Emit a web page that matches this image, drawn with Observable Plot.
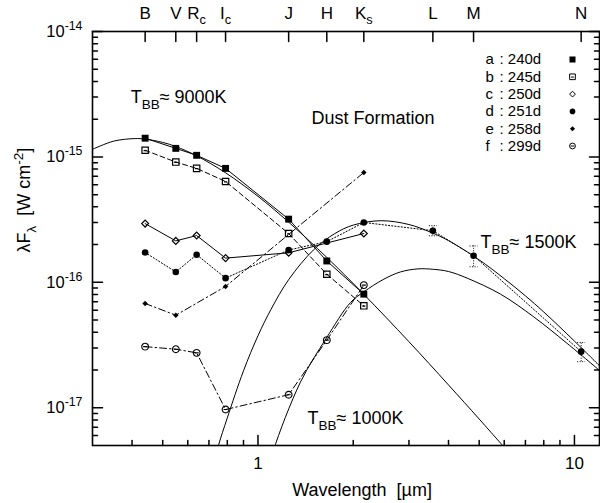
<!DOCTYPE html>
<html><head><meta charset="utf-8">
<script src="https://cdn.jsdelivr.net/npm/d3@7"></script>
<script src="https://cdn.jsdelivr.net/npm/@observablehq/plot@0.6"></script>
<style>html,body{margin:0;padding:0;background:#fff}#chart{width:600px;height:503px}</style>
</head><body><div id="chart"></div>
<script>
// ---- photometric bands (top axis) ----
const bandIds    = ["B","V","Rc","Ic","J","H","Ks","L","M","N"];
const bandLabels = ["B","V","R_{c}","I_{c}","J","H","K_{s}","L","M","N"];
const bandWl     = [0.44,0.55,0.64,0.79,1.25,1.65,2.16,3.57,4.8,10.5];

// ---- observed SEDs (λFλ, W cm^-2) ----
const aBands = ["B","V","Rc","Ic","J","H","Ks"];
const aFlux  = [1.41e-15,1.17e-15,1.03e-15,8.1e-16,3.19e-16,1.48e-16,8.05e-17];
const bBands = ["B","V","Rc","Ic","J","H","Ks"];
const bFlux  = [1.13e-15,9.1e-16,8.1e-16,6.37e-16,2.45e-16,1.16e-16,6.5e-17];
const cBands = ["B","V","Rc","Ic","J","Ks"];
const cFlux  = [2.94e-16,2.14e-16,2.36e-16,1.56e-16,1.72e-16,2.45e-16];
const dBands = ["B","V","Rc","Ic","J","H","Ks","L","M","N"];
const dFlux  = [1.73e-16,1.21e-16,1.66e-16,1.08e-16,1.81e-16,2.11e-16,3.0e-16,2.58e-16,1.63e-16,2.8e-17];
const eBands = ["B","V","Ic","Ks"];
const eFlux  = [6.78e-17,5.47e-17,9.27e-17,7.51e-16];
const fBands = ["B","V","Rc","Ic","J","H","Ks"];
const fFlux  = [3.07e-17,2.93e-17,2.74e-17,9.68e-18,1.27e-17,3.46e-17,9.5e-17];

// error bars on d (L, M, N)
const errBands = ["L","M","N"];
const errLo = [2.35e-16,1.33e-16,2.33e-17];
const errHi = [2.83e-16,1.95e-16,3.31e-17];

// ---- blackbody curves ----
const bb9000Wl   = [0.3,0.35,0.408,0.44,0.5,0.55,0.64,0.79,1.0,1.25,1.65,2.15,3.0,4.0,5.0,6.0];
const bb9000Flux = [1.15e-15,1.336e-15,1.40e-15,1.386e-15,1.305e-15,1.21e-15,1.02e-15,7.47e-16,4.85e-16,3.02e-16,1.58e-16,8.12e-17,3.36e-17,1.52e-17,8.13e-18,4.84e-18];
const bb1500Wl   = [0.72,0.75,0.8,0.9,1.0,1.1,1.25,1.5,1.75,2.0,2.45,3.0,3.5,4.0,5.0,6.0,7.0,8.0,10.0,12.0];
const bb1500Flux = [3.35e-18,5.0e-18,8.3e-18,1.97e-17,3.75e-17,6.1e-17,1.05e-16,1.82e-16,2.45e-16,2.86e-16,3.1e-16,2.89e-16,2.52e-16,2.15e-16,1.51e-16,1.07e-16,7.8e-17,5.8e-17,3.4e-17,2.16e-17];
const bb1000Wl   = [1.08,1.12,1.362,1.646,1.96,2.16,2.5,2.82,3.2,3.58,4.0,4.58,5.84,7.44,9.48,12.1];
const bb1000Flux = [3.2e-18,4.6e-18,1.6e-17,3.6e-17,6.9e-17,8.4e-17,1.06e-16,1.21e-16,1.28e-16,1.27e-16,1.22e-16,1.08e-16,8.05e-17,5.3e-17,3.26e-17,1.95e-17];

// ---- legend ----
const legendLetters = ["a","b","c","d","e","f"];
const legendDays = ["240d","245d","250d","251d","258d","299d"];

// ---- axis ticks ----
const xMajor = [1,10];
const xMinor = [0.4,0.5,0.6,0.7,0.8,0.9,2,3,4,5,6,7,8,9];
const yMajor = [1e-17,1e-16,1e-15,1e-14];
const yMinor = [];
for (const e of [-18,-17,-16,-15]) for (let m = 2; m <= 9; m++) { const v = m * Math.pow(10, e); if (v > 5.01e-18) yMinor.push(v); }

const wlOf = Object.fromEntries(bandIds.map((b, i) => [b, bandWl[i]]));
const mk = (bands, flux) => bands.map((b, i) => ({wl: wlOf[b], flux: flux[i]}));
const A = mk(aBands, aFlux), B = mk(bBands, bFlux), C = mk(cBands, cFlux),
      D = mk(dBands, dFlux), E = mk(eBands, eFlux), Fd = mk(fBands, fFlux);
const ERR = errBands.map((b, i) => ({wl: wlOf[b], lo: errLo[i], hi: errHi[i]}));
const curve = (w, f) => w.map((x, i) => ({wl: x, flux: f[i]}));

// custom symbols
const tickShape = {draw(ctx, l) { ctx.moveTo(0, 0); ctx.lineTo(0, -l); }};
const sqBar = {draw(ctx, size) { const s = Math.sqrt(size) / 2; ctx.rect(-s, -s, 2 * s, 2 * s); ctx.moveTo(-s * 0.5, s * 0.1); ctx.lineTo(s * 0.5, s * 0.1); }};
const circBar = {draw(ctx, size) { const r = Math.sqrt(size / Math.PI); ctx.moveTo(r, 0); ctx.arc(0, 0, r, 0, 2 * Math.PI); ctx.moveTo(-r * 0.6, 0); ctx.lineTo(r * 0.6, 0); }};
const capShape = {draw(ctx, size) { ctx.moveTo(-4, 0); ctx.lineTo(4, 0); }};

const FS = 18;
const LFS = 15;      // legend font size
const LROW = 17.3;   // legend row spacing
const FONT = "Liberation Sans, Arial, Helvetica, sans-serif";
const T = (data, o) => Plot.text(data, {fontSize: FS, fill: "black", fontFamily: FONT, ...o});
const xy = {x: "wl", y: "flux"};

const legendSyms = [
  {symbol: "square", r: 3.4, fill: "black", stroke: "none"},
  {symbol: sqBar, r: 3.2, fill: "none", stroke: "black"},
  {symbol: "diamond2", r: 2.6, fill: "none", stroke: "black"},
  {symbol: "circle", r: 2.8, fill: "black", stroke: "none"},
  {symbol: "diamond2", r: 2.3, fill: "black", stroke: "none"},
  {symbol: circBar, r: 2.9, fill: "none", stroke: "black"}
];

const marks = [
  // blackbody curves
  Plot.line(curve(bb9000Wl, bb9000Flux), {...xy, curve: "catmull-rom", stroke: "black", strokeWidth: 1, clip: true}),
  Plot.line(curve(bb1500Wl, bb1500Flux), {...xy, curve: "catmull-rom", stroke: "black", strokeWidth: 1, clip: true}),
  Plot.line(curve(bb1000Wl, bb1000Flux), {...xy, curve: "catmull-rom", stroke: "black", strokeWidth: 1, clip: true}),
  // series lines
  Plot.line(A, {...xy, stroke: "black", strokeWidth: 1}),
  Plot.line(B, {...xy, stroke: "black", strokeWidth: 1, strokeDasharray: "5,3"}),
  Plot.line(C, {...xy, stroke: "black", strokeWidth: 1}),
  Plot.line(D, {...xy, stroke: "black", strokeWidth: 1, strokeDasharray: "1.2,2"}),
  Plot.line(E, {...xy, stroke: "black", strokeWidth: 1, strokeDasharray: "7,3,1.5,3"}),
  Plot.line(Fd, {...xy, stroke: "black", strokeWidth: 1, strokeDasharray: "7,3,1.5,3"}),
  // error bars
  Plot.ruleX(ERR, {x: "wl", y1: "lo", y2: "hi", stroke: "black", strokeWidth: 1, strokeDasharray: "1,1.5"}),
  Plot.dot(ERR, {x: "wl", y: "lo", symbol: capShape, stroke: "black", strokeWidth: 1, strokeDasharray: "1,1.5", fill: "none"}),
  Plot.dot(ERR, {x: "wl", y: "hi", symbol: capShape, stroke: "black", strokeWidth: 1, strokeDasharray: "1,1.5", fill: "none"}),
  // points
  Plot.dot(A, {...xy, symbol: "square", r: 3.9, fill: "black", stroke: "none"}),
  Plot.dot(B, {...xy, symbol: sqBar, r: 3.6, fill: "none", stroke: "black", strokeWidth: 1.2}),
  Plot.dot(C, {...xy, symbol: "diamond2", r: 3.1, fill: "none", stroke: "black", strokeWidth: 1.2}),
  Plot.dot(D, {...xy, symbol: "circle", r: 3.3, fill: "black", stroke: "none"}),
  Plot.dot(E, {...xy, symbol: "diamond2", r: 2.5, fill: "black", stroke: "none"}),
  Plot.dot(Fd, {...xy, symbol: circBar, r: 3.4, fill: "none", stroke: "black", strokeWidth: 1.1}),
  // ticks
  Plot.vector(xMinor, {x: d => d, frameAnchor: "bottom", length: 5, rotate: 0, anchor: "start", shape: tickShape, stroke: "black"}),
  Plot.vector(xMajor, {x: d => d, frameAnchor: "bottom", length: 10, rotate: 0, anchor: "start", shape: tickShape, stroke: "black"}),
  Plot.vector(bandWl, {x: d => d, frameAnchor: "top", length: 10, rotate: 180, anchor: "start", shape: tickShape, stroke: "black"}),
  Plot.vector(yMinor, {y: d => d, frameAnchor: "left", length: 5, rotate: 90, anchor: "start", shape: tickShape, stroke: "black"}),
  Plot.vector(yMajor, {y: d => d, frameAnchor: "left", length: 10, rotate: 90, anchor: "start", shape: tickShape, stroke: "black"}),
  Plot.vector(yMinor, {y: d => d, frameAnchor: "right", length: 5, rotate: -90, anchor: "start", shape: tickShape, stroke: "black"}),
  Plot.vector(yMajor, {y: d => d, frameAnchor: "right", length: 10, rotate: -90, anchor: "start", shape: tickShape, stroke: "black"}),
  Plot.frame({stroke: "black", strokeWidth: 1.6}),
  // tick labels
  T(xMajor, {x: d => d, frameAnchor: "bottom", dy: 18, fontSize: 17, text: d => String(d), lineAnchor: "middle"}),
  T(yMajor, {y: d => d, frameAnchor: "left", dx: -10, fontSize: 16.5, textAnchor: "end", lineAnchor: "middle", text: d => `10^{${Math.round(Math.log10(d))}}`}),
  T(bandWl, {x: d => d, frameAnchor: "top", dy: -18, fontSize: 17, lineAnchor: "middle", text: (d, i) => bandLabels[i]}),
  // axis titles
  T(["Wavelength  [µm]"], {frameAnchor: "bottom", dx: 16, dy: 45, lineAnchor: "middle"}),
  T(["λF_{λ}  [W cm^{-2}]"], {frameAnchor: "left", dx: -68, dy: 14, rotate: -90, lineAnchor: "middle"}),
  // annotations
  T(["T_{BB}≈ 9000K"], {x: [0.396], y: [2.98e-15], textAnchor: "start", lineAnchor: "middle"}),
  T(["Dust Formation"], {x: [1.476], y: [2.02e-15], textAnchor: "start", lineAnchor: "middle"}),
  T(["T_{BB}≈ 1500K"], {x: [5.05], y: [2.07e-16], textAnchor: "start", lineAnchor: "middle"}),
  T(["T_{BB}≈ 1000K"], {x: [1.434], y: [8.2e-18], textAnchor: "start", lineAnchor: "middle"})
];
// legend rows
legendLetters.forEach((L, i) => {
  const dy = 28 + LROW * i;
  marks.push(T([L], {frameAnchor: "top-right", dx: -114, dy, fontSize: LFS, textAnchor: "start", lineAnchor: "middle"}));
  marks.push(T([": " + legendDays[i]], {frameAnchor: "top-right", dx: -100, dy, fontSize: LFS, textAnchor: "start", lineAnchor: "middle"}));
  marks.push(Plot.dot([L], {frameAnchor: "top-right", dx: -27, dy, strokeWidth: 1, ...legendSyms[i]}));
});

const chart = Plot.plot({
  width: 600, height: 503,
  marginLeft: 92, marginTop: 31, marginRight: 1, marginBottom: 58,
  x: {type: "log", domain: [0.3, 12], axis: null},
  y: {type: "log", domain: [5e-18, 1e-14], axis: null},
  style: {fontFamily: FONT, fontSize: FS + "px", color: "black", background: "white", overflow: "visible"},
  marks
});
document.getElementById("chart").appendChild(chart);

// rich text: ^{...} superscript, _{...} subscript
chart.querySelectorAll("text").forEach(el => {
  if (el.querySelector("tspan")) return;
  const s = el.textContent;
  if (!/[\^_]\{/.test(s)) return;
  const fs = parseFloat(getComputedStyle(el).fontSize) || FS;
  el.textContent = "";
  const re = /([\^_])\{([^}]*)\}|([^\^_]+)/g;
  let m, cur = 0;
  while ((m = re.exec(s))) {
    const ts = document.createElementNS("http://www.w3.org/2000/svg", "tspan");
    let target = 0, txt;
    if (m[1] === "^") { target = -0.42 * fs; ts.setAttribute("font-size", (0.75 * fs) + "px"); txt = m[2]; }
    else if (m[1] === "_") { target = 0.3 * fs; ts.setAttribute("font-size", (0.75 * fs) + "px"); txt = m[2]; }
    else txt = m[3];
    if (target !== cur) ts.setAttribute("dy", (target - cur) + "px");
    cur = target;
    ts.textContent = txt;
    el.appendChild(ts);
  }
});
</script>
</body></html>
